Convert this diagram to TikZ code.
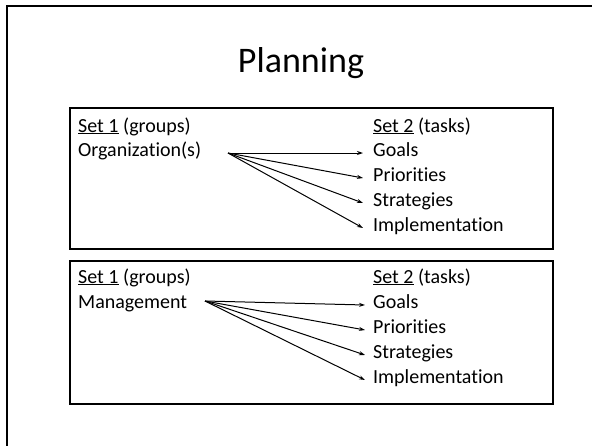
\documentclass[tikz,border=0pt]{standalone}
\usepackage{fontspec}
\setmainfont{Carlito}[Ligatures=NoCommon]
\usetikzlibrary{arrows.meta}

\begin{document}
\begin{tikzpicture}[x=1pt,y=-1pt,
    txt/.style={anchor=base west,inner sep=0pt,font=\fontsize{20}{24}\selectfont},
    task/.style={txt,inner ysep=0pt,inner xsep=10pt,text height=14pt,text depth=8pt},
    arr/.style={-{Stealth[length=6pt,width=4pt]},line width=1pt}]
        \useasboundingbox (0,0) rectangle (592,445);
        \clip (0,0) rectangle (592,445);
        \draw[line width=2.5pt] (7,6) rectangle (620,470);
        \node[font=\fontsize{36}{40}\selectfont,anchor=base] (title) at (301,72) {Planning};

        % first set: organizations
        \draw[line width=2pt] (70,108) rectangle (553,249);
        \node[txt] (groupsA) at (78,132) {\underline{Set 1} (groups)};
        \node[txt] (org) at (78,156) {Organization(s)};
        \node[txt] (tasksA) at (373,132) {\underline{Set 2} (tasks)};
        \node[task] (goalsA) at (363,156) {Goals};
        \node[task] (prioA) at (363,181) {Priorities};
        \node[task] (stratA) at (363,206) {Strategies};
        \node[task] (implA) at (363,231) {Implementation};
        \coordinate (srcA) at (228,153);
        \draw[arr] (srcA) -- (goalsA.west);
        \draw[arr] (srcA) -- (prioA.west);
        \draw[arr] (srcA) -- (stratA.west);
        \draw[arr] (srcA) -- (implA.west);

        % second set: management
        \draw[line width=2pt] (70,261) rectangle (553,404);
        \node[txt] (groupsB) at (78,283) {\underline{Set 1} (groups)};
        \node[txt] (mgmt) at (78,308) {Management};
        \node[txt] (tasksB) at (373,283) {\underline{Set 2} (tasks)};
        \node[task,inner xsep=8pt] (goalsB) at (365,308) {Goals};
        \node[task,inner xsep=8pt] (prioB) at (365,333) {Priorities};
        \node[task,inner xsep=8pt] (stratB) at (365,358) {Strategies};
        \node[task,inner xsep=8pt] (implB) at (365,383) {Implementation};
        \coordinate (srcB) at (205,301);
        \draw[arr] (srcB) -- (goalsB.west);
        \draw[arr] (srcB) -- (prioB.west);
        \draw[arr] (srcB) -- (stratB.west);
        \draw[arr] (srcB) -- (implB.west);
\end{tikzpicture}
\end{document}
